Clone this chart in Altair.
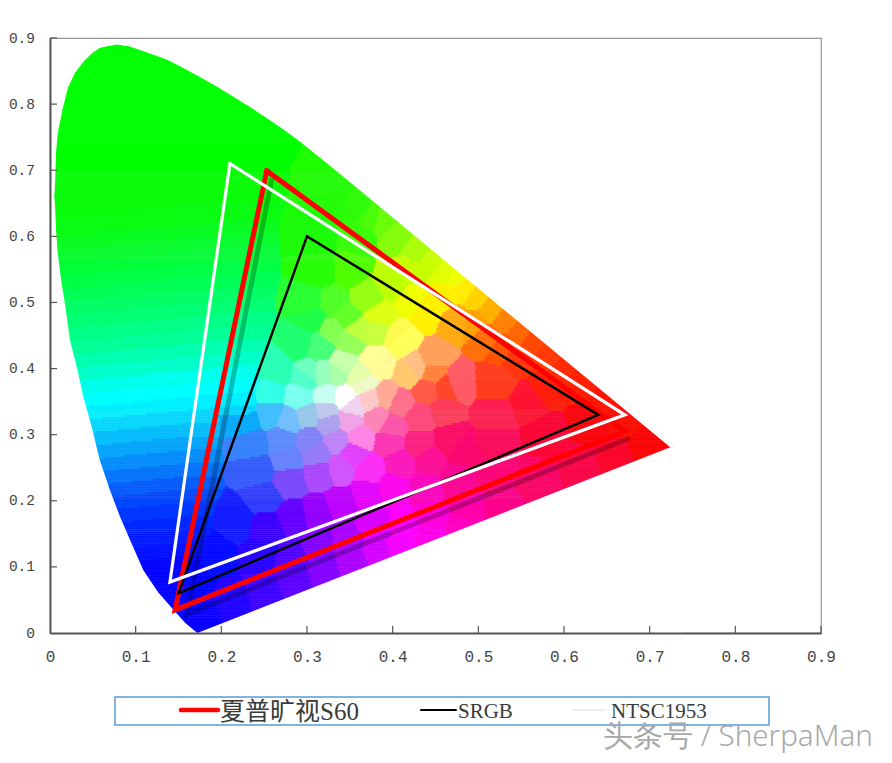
import altair as alt
import numpy as np
import pandas as pd

alt.data_transformers.disable_max_rows()

tick_values = [0, 0.1, 0.2, 0.3, 0.4, 0.5, 0.6, 0.7, 0.8, 0.9]

# boundary of the coloured region: lower-left side going up, then upper side going right
lower_x = [0.172, 0.158, 0.144, 0.126, 0.109, 0.096, 0.082, 0.070, 0.058, 0.049, 0.039, 0.0315, 0.0233,
           0.018, 0.013, 0.009, 0.007, 0.006]
lower_y = [0.000, 0.015, 0.035, 0.062, 0.095, 0.133, 0.175, 0.216, 0.262, 0.310, 0.357, 0.401, 0.443,
           0.493, 0.534, 0.575, 0.610, 0.644]
upper_x = [0.006, 0.007, 0.009, 0.015, 0.021, 0.029, 0.039, 0.049, 0.058, 0.068, 0.078, 0.091, 0.105,
           0.120, 0.137, 0.155, 0.175, 0.194, 0.214, 0.233, 0.253, 0.272, 0.292, 0.320, 0.350, 0.724]
upper_y = [0.681, 0.726, 0.756, 0.794, 0.825, 0.847, 0.864, 0.877, 0.885, 0.888, 0.890, 0.888, 0.882,
           0.875, 0.867, 0.855, 0.841, 0.827, 0.811, 0.796, 0.779, 0.762, 0.743, 0.714, 0.682, 0.281]

band_y = [0.04, 0.07, 0.10, 0.12, 0.14, 0.16, 0.18, 0.20, 0.22, 0.24, 0.26, 0.28, 0.30, 0.32, 0.34, 0.36,
          0.38, 0.40, 0.42, 0.44, 0.46, 0.48, 0.50, 0.52, 0.54, 0.56, 0.58, 0.60, 0.62, 0.66, 0.72, 0.80, 0.88]
band_color = ["#0000ff", "#0000ff", "#0000ff", "#000fff", "#0019ff", "#0028ff", "#0037ff", "#0046ff",
              "#005aff", "#0073ff", "#008cff", "#00a5ff", "#00beff", "#00d7ff", "#00f0ff", "#00ffff",
              "#00ffeb", "#00ffc8", "#00ffaf", "#00ff96", "#00ff87", "#00ff73", "#00ff64", "#00ff55",
              "#00ff46", "#00ff37", "#00ff28", "#00ff19", "#00ff0a", "#00ff00", "#00ff00", "#00ff00", "#00ff00"]

# colour samples: (x, y, (r, g, b))
mosaic = [
    # outer upper edge
    (0.33, 0.66, (30, 255, 0)), (0.36, 0.645, (40, 255, 0)), (0.375, 0.63, (70, 255, 0)),
    (0.389, 0.625, (100, 255, 0)), (0.405, 0.60, (130, 255, 0)), (0.428, 0.579, (170, 255, 0)),
    (0.445, 0.56, (200, 255, 0)), (0.46, 0.545, (225, 255, 0)), (0.475, 0.539, (240, 255, 0)),
    (0.485, 0.52, (255, 235, 0)), (0.498, 0.508, (255, 210, 0)), (0.515, 0.49, (255, 175, 0)),
    (0.533, 0.473, (255, 130, 0)), (0.548, 0.455, (255, 100, 0)), (0.564, 0.439, (255, 70, 0)),
    (0.58, 0.42, (255, 55, 0)), (0.60, 0.395, (255, 40, 0)), (0.62, 0.38, (255, 30, 0)),
    (0.65, 0.355, (255, 20, 0)), (0.67, 0.33, (255, 10, 0)),
    # second row in from the edge
    (0.42, 0.55, (200, 255, 0)), (0.46, 0.51, (255, 240, 0)), (0.495, 0.47, (255, 160, 0)),
    (0.53, 0.43, (255, 80, 0)),
    # upper inner
    (0.44, 0.489, (255, 240, 0)), (0.475, 0.473, (255, 170, 20)), (0.51, 0.448, (255, 110, 10)),
    (0.545, 0.418, (255, 50, 10)), (0.409, 0.443, (255, 255, 90)), (0.385, 0.408, (255, 250, 150)),
    (0.365, 0.378, (240, 250, 200)), (0.447, 0.413, (255, 160, 90)), (0.428, 0.402, (255, 190, 130)),
    (0.475, 0.378, (255, 90, 100)), (0.33, 0.458, (130, 255, 80)), (0.358, 0.458, (190, 255, 60)),
    (0.385, 0.478, (220, 255, 20)), (0.424, 0.504, (240, 255, 0)), (0.342, 0.408, (200, 255, 170)),
    (0.319, 0.393, (150, 255, 190)), (0.30, 0.387, (80, 255, 200)), (0.303, 0.499, (40, 255, 50)),
    (0.33, 0.499, (80, 255, 40)), (0.37, 0.508, (150, 255, 20)), (0.40, 0.53, (190, 255, 0)),
    (0.35, 0.549, (80, 255, 0)), (0.315, 0.549, (40, 255, 10)), (0.36, 0.60, (50, 255, 0)),
    (0.31, 0.60, (20, 255, 0)),
    # centre
    (0.344, 0.357, (255, 255, 255)), (0.323, 0.36, (200, 255, 240)), (0.292, 0.357, (120, 255, 240)),
    (0.257, 0.363, (50, 255, 230)), (0.265, 0.398, (40, 255, 180)), (0.303, 0.393, (110, 255, 190)),
    (0.335, 0.393, (170, 255, 170)), (0.362, 0.387, (230, 255, 170)), (0.382, 0.413, (255, 255, 150)),
    (0.405, 0.448, (255, 250, 80)), (0.382, 0.458, (200, 255, 60)), (0.35, 0.443, (150, 255, 90)),
    (0.315, 0.433, (70, 255, 120)), (0.292, 0.439, (30, 255, 110)), (0.307, 0.478, (30, 255, 70)),
    (0.347, 0.478, (100, 255, 40)), (0.354, 0.342, (240, 210, 240)), (0.323, 0.337, (190, 200, 240)),
    (0.30, 0.33, (150, 200, 235)), (0.28, 0.322, (110, 190, 255)), (0.257, 0.333, (60, 190, 255)),
    (0.23, 0.322, (0, 170, 255)), (0.237, 0.287, (50, 130, 255)), (0.272, 0.292, (90, 140, 255)),
    (0.303, 0.292, (130, 130, 250)), (0.335, 0.292, (190, 130, 250)), (0.327, 0.318, (170, 160, 240)),
    (0.35, 0.322, (240, 160, 230)), (0.362, 0.297, (255, 130, 230)), (0.382, 0.327, (255, 130, 180)),
    (0.373, 0.352, (255, 200, 200)), (0.393, 0.357, (255, 170, 150)), (0.408, 0.348, (255, 110, 140)),
    (0.42, 0.393, (255, 200, 110)), (0.447, 0.395, (255, 130, 60)), (0.44, 0.368, (255, 90, 70)),
    (0.463, 0.372, (255, 70, 40)), (0.459, 0.337, (255, 60, 90)), (0.432, 0.327, (255, 70, 120)),
    (0.40, 0.312, (255, 80, 170)), (0.397, 0.29, (255, 50, 180)), (0.432, 0.287, (255, 30, 130)),
    (0.467, 0.292, (255, 10, 100)), (0.354, 0.272, (230, 60, 255)),
    # lower
    (0.315, 0.242, (170, 70, 255)), (0.28, 0.231, (120, 70, 255)), (0.242, 0.247, (50, 90, 255)),
    (0.277, 0.265, (100, 130, 255)), (0.312, 0.272, (150, 120, 250)), (0.339, 0.25, (210, 80, 255)),
    (0.374, 0.247, (255, 40, 250)), (0.409, 0.257, (255, 20, 190)), (0.444, 0.262, (255, 10, 150)),
    (0.482, 0.277, (255, 0, 110)), (0.218, 0.171, (20, 30, 255)), (0.253, 0.16, (60, 0, 255)),
    (0.25, 0.205, (50, 60, 255)), (0.284, 0.175, (100, 0, 255)), (0.312, 0.182, (150, 0, 255)),
    (0.339, 0.197, (190, 0, 255)), (0.37, 0.212, (230, 0, 255)), (0.40, 0.221, (255, 0, 240)),
    (0.44, 0.221, (255, 0, 190)), (0.475, 0.231, (255, 0, 150)), (0.19, 0.121, (0, 10, 255)),
    (0.249, 0.121, (40, 0, 255)), (0.28, 0.11, (80, 0, 255)), (0.315, 0.13, (130, 0, 255)),
    (0.347, 0.136, (170, 0, 255)), (0.382, 0.16, (220, 0, 255)), (0.412, 0.16, (255, 0, 255)),
    (0.447, 0.175, (255, 0, 220)), (0.487, 0.19, (255, 0, 170)), (0.179, 0.024, (10, 0, 255)),
    (0.214, 0.045, (30, 0, 255)), (0.249, 0.06, (60, 0, 255)), (0.288, 0.076, (90, 0, 255)),
    (0.319, 0.091, (130, 0, 255)), (0.354, 0.106, (170, 0, 255)), (0.382, 0.121, (210, 0, 255)),
    (0.409, 0.13, (240, 0, 255)), (0.444, 0.145, (255, 0, 230)), (0.482, 0.16, (255, 0, 190)),
    # right
    (0.53, 0.19, (255, 0, 140)), (0.52, 0.24, (255, 0, 120)), (0.57, 0.23, (255, 0, 100)),
    (0.62, 0.25, (255, 0, 70)), (0.66, 0.26, (255, 0, 40)), (0.70, 0.28, (255, 0, 0)),
    (0.52, 0.29, (255, 10, 90)), (0.58, 0.30, (255, 0, 50)), (0.52, 0.33, (255, 30, 80)),
    (0.56, 0.35, (255, 20, 50)), (0.63, 0.32, (255, 0, 10)), (0.52, 0.38, (255, 60, 30)),
    (0.58, 0.37, (255, 30, 10)),
]

series_names = ["夏普旷视S60", "SRGB", "NTSC1953"]
red_x, red_y = [0.253, 0.671, 0.146, 0.253], [0.699, 0.305, 0.035, 0.699]
black_x, black_y = [0.30, 0.64, 0.15, 0.30], [0.60, 0.33, 0.06, 0.60]
white_x, white_y = [0.21, 0.671, 0.14, 0.21], [0.71, 0.33, 0.077, 0.71]
shadow_x, shadow_y = [0.259, 0.160, 0.677], [0.688, 0.028, 0.295]

watermark = "头条号 / SherpaMan"

# colour field: each cell takes the colour of the nearest sample
BAND_TILT = 0.12
mx = np.array([m[0] for m in mosaic])
my = np.array([m[1] for m in mosaic])
mc = ["#%02x%02x%02x" % m[2] for m in mosaic]
by = np.array(band_y)
all_colors = band_color + mc

lx = np.array(lower_x + upper_x + lower_x[:1])
ly = np.array(lower_y + upper_y + lower_y[:1])
STEP_Y, STEP_X = 0.003, 0.002
cells = []
for yc in np.arange(STEP_Y / 2, 0.8905, STEP_Y):
    xs = []
    for i in range(len(lx) - 1):
        y0, y1 = ly[i], ly[i + 1]
        if (y0 - yc) * (y1 - yc) <= 0 and y0 != y1:
            xs.append(lx[i] + (yc - y0) / (y1 - y0) * (lx[i + 1] - lx[i]))
    if len(xs) < 2:
        continue
    xa, xb = max(min(xs) - 0.004, 0.001), max(xs) + 0.004
    grid = np.append(np.arange(xa, xb, STEP_X), xb)
    mids = (grid[:-1] + grid[1:]) / 2
    x_end = 0.225 if yc >= 0.33 else 0.165
    cx = np.minimum(mids, x_end)
    dband = ((mids - cx)[:, None] * 856.7) ** 2 + \
            ((yc - (by[None, :] + BAND_TILT * (cx[:, None] - 0.1))) * 661) ** 2
    dmos = ((mids[:, None] - mx[None, :]) * 856.7) ** 2 + ((yc - my[None, :]) * 661) ** 2
    idx = np.concatenate([dband, dmos], axis=1).argmin(axis=1)
    start = 0
    for j in range(1, len(idx) + 1):
        if j == len(idx) or all_colors[idx[j]] != all_colors[idx[start]]:
            cells.append(dict(x=round(float(grid[start]), 4), x2=round(float(grid[j]), 4),
                              y=round(float(yc - STEP_Y / 2), 4), y2=round(float(yc + STEP_Y / 2), 4),
                              c=all_colors[idx[start]]))
            start = j
cells = pd.DataFrame(cells)

scale_x = alt.Scale(domain=[0, 0.9], nice=False, zero=False)
scale_y = alt.Scale(domain=[0, 0.9], nice=False, zero=False)
LABEL_EXPR = "datum.value == 0 ? '0' : format(datum.value, '.1f')"
axis_x = alt.Axis(values=tick_values, title=None, grid=False, ticks=False, labelExpr=LABEL_EXPR, zindex=1,
                  labelFont="Liberation Mono", labelFontSize=16, labelColor="#444444", labelPadding=15,
                  domainColor="#555555", domainWidth=2, labelFlush=False, labelOverlap=False)
axis_y = alt.Axis(values=tick_values, title=None, grid=False, ticks=False, labelExpr=LABEL_EXPR, zindex=1,
                  labelFont="Liberation Mono", labelFontSize=14.5, labelColor="#444444", labelPadding=15.5,
                  domainColor="#555555", domainWidth=2, labelFlush=False, labelOverlap=False)
X = alt.X("x:Q", scale=scale_x, axis=axis_x)
Y = alt.Y("y:Q", scale=scale_y, axis=axis_y)

field = alt.Chart(cells).mark_rect(strokeWidth=0.6).encode(
    x=X, x2="x2:Q", y=Y, y2="y2:Q",
    color=alt.Color("c:N", scale=None), stroke=alt.Stroke("c:N", scale=None))

# white surroundings trim the colour field to a smooth edge
mask_top = pd.DataFrame({"x": [0, 0.005] + upper_x + [0.74], "y": [0.66, 0.66] + upper_y + [0.281], "y2": 0.896})
mask_low = pd.DataFrame({"x": [0, 0.005] + lower_x[::-1] + [upper_x[-1], 0.74],
                         "y": [0.66, 0.66] + lower_y[::-1] + [upper_y[-1], 0.281], "y2": 0.0})
mask_layers = [
    alt.Chart(m).mark_area(color="white", opacity=1, interpolate="linear").encode(x=X, y=Y, y2="y2:Q")
    for m in (mask_top, mask_low)
]


def triangle(xs, ys, color, width, opacity=1.0, cap="square"):
    df = pd.DataFrame({"x": xs, "y": ys, "i": range(len(xs))})
    return alt.Chart(df).mark_line(color=color, strokeWidth=width, opacity=opacity, strokeJoin="miter",
                                   strokeCap=cap, clip=False).encode(
        x=X, y=Y, order="i:O")


ticks_bottom = alt.Chart(pd.DataFrame({"x": tick_values[1:]})).mark_rule(color="#555555", strokeWidth=1.2).encode(
    x=X, y=alt.value(595), y2=alt.value(588))
ticks_left = alt.Chart(pd.DataFrame({"y": tick_values[1:]})).mark_rule(color="#555555", strokeWidth=1.2).encode(
    y=Y, x=alt.value(0), x2=alt.value(7))

legend_box = alt.Chart(pd.DataFrame({"a": [0]})).mark_rect(
    fill="white", stroke="#5b9bd5", strokeWidth=1.5).encode(
    x=alt.value(65), x2=alt.value(719), y=alt.value(659), y2=alt.value(687))

legend_df = pd.DataFrame({
    "name": series_names,
    "x0": [131, 371, 523], "x1": [168, 406, 555], "tx": [170, 408, 561],
    "size": [25, 21, 21], "color": ["#ff0000", "#000000", "#eeeeee"], "w": [4.5, 2, 2],
    "ty": [682, 680, 680],
})
legend_lines = [
    alt.Chart(legend_df.iloc[[i]]).mark_rule(color=r["color"], strokeWidth=r["w"], strokeCap="round").encode(
        x=alt.value(int(r["x0"])), x2=alt.value(int(r["x1"])), y=alt.value(672))
    for i, r in legend_df.iterrows()
]
legend_texts = [
    alt.Chart(legend_df.iloc[[i]]).mark_text(
        align="left", baseline="alphabetic", font="Liberation Serif, Noto Sans CJK SC",
        fontSize=int(r["size"]), color="#3a3a3a").encode(
        x=alt.value(int(r["tx"])), y=alt.value(int(r["ty"])), text="name:N")
    for i, r in legend_df.iterrows()
]
mark_text = alt.Chart(pd.DataFrame({"t": [watermark]})).mark_text(
    align="left", baseline="alphabetic", font="Noto Sans", fontSize=29.5, fontWeight=300, color="#a8a8a8").encode(
    x=alt.value(553), y=alt.value(708), text="t:N")

chart = alt.layer(
    field, *mask_layers,
    triangle(shadow_x, shadow_y, "#000000", 5, 0.25, cap="butt"),
    triangle(red_x, red_y, "#ff0000", 5),
    triangle(black_x, black_y, "#000000", 2.5),
    triangle(white_x, white_y, "#ffffff", 3.2),
    ticks_bottom, ticks_left,
    legend_box, *legend_lines, *legend_texts, mark_text,
).properties(
    width=771, height=595,
    padding={"left": 42, "top": 30, "right": 60, "bottom": 125},
    autosize=alt.AutoSizeParams(type="none"),
    background="white",
).configure_view(stroke="#999999", strokeWidth=1.2)

chart.save("out.html", embed_options={"renderer": "svg", "actions": False})
